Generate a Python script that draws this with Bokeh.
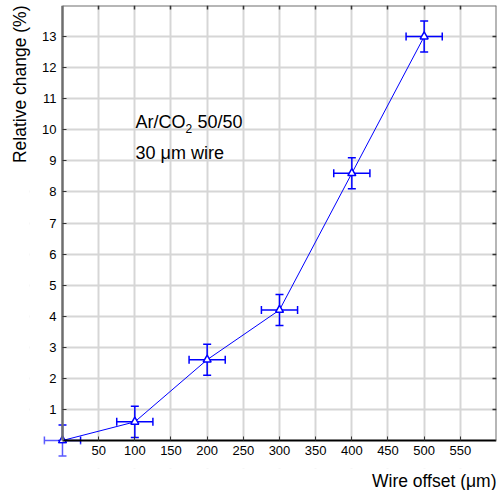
import math
from bokeh.plotting import figure
from bokeh.models import (Range1d, FixedTicker, LinearAxis, Label, Whisker, Title,
                          ColumnDataSource, TeeHead, BoxAnnotation)
from bokeh.embed import file_html
from bokeh.resources import INLINE

# data
offset = [0, 100, 200, 300, 400, 500]
change = [0.0, 0.6, 2.6, 4.2, 8.6, 13.0]
x_err = [25, 25, 25, 25, 25, 25]
y_err = [0.5, 0.5, 0.5, 0.5, 0.5, 0.5]
x_ticks = [50, 100, 150, 200, 250, 300, 350, 400, 450, 500, 550]
y_ticks = [1, 2, 3, 4, 5, 6, 7, 8, 9, 10, 11, 12, 13]
X_MAX, Y_MAX = 600, 14

FONT = "Liberation Sans"
BLUE = "#0000ff"
FRAME = "#6e6e6e"

src = ColumnDataSource(dict(
    x=offset, y=change,
    xl=[a - e for a, e in zip(offset, x_err)], xu=[a + e for a, e in zip(offset, x_err)],
    yl=[a - e for a, e in zip(change, y_err)], yu=[a + e for a, e in zip(change, y_err)],
))

# frame larger than the data box so that error bars at 0 overhang the axes
p = figure(width=497, height=490, output_backend="svg", toolbar_location=None,
           x_range=Range1d(-45.6, X_MAX), y_range=Range1d(-0.901, Y_MAX),
           min_border_left=29, min_border_right=1, min_border_top=5, min_border_bottom=22)
p.outline_line_color = None
p.background_fill_color = "white"

for ax in (p.xaxis[0], p.yaxis[0]):
    ax.fixed_location = 0
    ax.major_tick_in = 4
    ax.major_tick_out = 0
    ax.minor_tick_line_color = None
    ax.major_label_text_font = FONT
    ax.major_label_text_font_size = "13px"
    ax.major_label_text_color = "black"
    ax.major_tick_line_color = "#333333"

p.xaxis[0].ticker = FixedTicker(ticks=x_ticks)
p.xaxis[0].bounds = (0, X_MAX)
p.xaxis[0].axis_line_color = "black"
p.xaxis[0].axis_line_width = 2
p.xaxis[0].major_label_standoff = 5

p.yaxis[0].ticker = FixedTicker(ticks=y_ticks)
p.yaxis[0].bounds = (0, Y_MAX)
p.yaxis[0].axis_line_color = FRAME
p.yaxis[0].axis_line_width = 2.5
p.yaxis[0].major_label_standoff = 6

p.xgrid.ticker = FixedTicker(ticks=x_ticks)
p.ygrid.ticker = FixedTicker(ticks=y_ticks)
for g in (p.xgrid[0], p.ygrid[0]):
    g.grid_line_color = "#d6d6d6"
    g.grid_line_width = 2

# hide grid outside the data box
p.add_layout(BoxAnnotation(right=0, fill_color="white", fill_alpha=1, line_color=None,
                           level="underlay"))
p.add_layout(BoxAnnotation(top=0, fill_color="white", fill_alpha=1, line_color=None,
                           level="underlay"))

# top and right frame: tick marks only (minor ticks carry no labels)
top = LinearAxis(fixed_location=Y_MAX,
                 ticker=FixedTicker(ticks=[], minor_ticks=x_ticks),
                 major_tick_line_color=None, minor_tick_line_color="#333333",
                 minor_tick_in=4, minor_tick_out=0, minor_tick_line_width=1.5,
                 axis_line_color=FRAME, axis_line_width=2, bounds=(0, X_MAX))
right = LinearAxis(fixed_location=X_MAX,
                   ticker=FixedTicker(ticks=[], minor_ticks=y_ticks),
                   major_tick_line_color=None, minor_tick_line_color="#333333",
                   minor_tick_in=4, minor_tick_out=0, minor_tick_line_width=1.5,
                   axis_line_color=FRAME, axis_line_width=2, bounds=(0, Y_MAX))
p.add_layout(top, "above")
p.add_layout(right, "right")

# axis titles
p.add_layout(Title(text="Wire offset (μm)", align="right", text_font=FONT,
                   text_font_size="17.5px", text_font_style="normal", text_color="black",
                   standoff=0), "below")
p.add_layout(Title(text="Relative change (%)", align="right", text_font=FONT,
                   text_font_size="17.5px", text_font_style="normal", text_color="black",
                   standoff=0), "left")

# error bars
for base, lo, hi, dim in (("x", "yl", "yu", "height"), ("y", "xl", "xu", "width")):
    p.add_layout(Whisker(source=src, base=base, lower=lo, upper=hi, dimension=dim,
                         line_color=BLUE, line_width=1.5,
                         lower_head=TeeHead(size=8, line_color=BLUE, line_width=1.5),
                         upper_head=TeeHead(size=8, line_color=BLUE, line_width=1.5)))

p.line("x", "y", source=src, line_color=BLUE, line_width=1)
p.scatter("x", "y", source=src, marker="triangle", size=8, fill_color="white",
          line_color=BLUE, line_width=1.5)

# parts drawn outside the axes box appear lighter
p.add_layout(BoxAnnotation(right=-6, top=0.6, fill_color="white", fill_alpha=0.35,
                           line_color=None, level="overlay"))
p.add_layout(BoxAnnotation(top=-0.1, right=30, fill_color="white", fill_alpha=0.35,
                           line_color=None, level="overlay"))

# annotations
common = dict(text_font=FONT, text_color="black", text_baseline="alphabetic",
              text_align="left")
p.add_layout(Label(x=101, y=10.245, text="Ar/CO", text_font_size="18px", **common))
p.add_layout(Label(x=101, y=10.03, x_offset=50, text="2", text_font_size="12px", **common))
p.add_layout(Label(x=101, y=10.245, x_offset=62, text="50/50", text_font_size="18px",
                   **common))
p.add_layout(Label(x=101, y=9.247, text="30 μm wire", text_font_size="18px", **common))

open("out.html", "w").write(file_html(p, INLINE))
